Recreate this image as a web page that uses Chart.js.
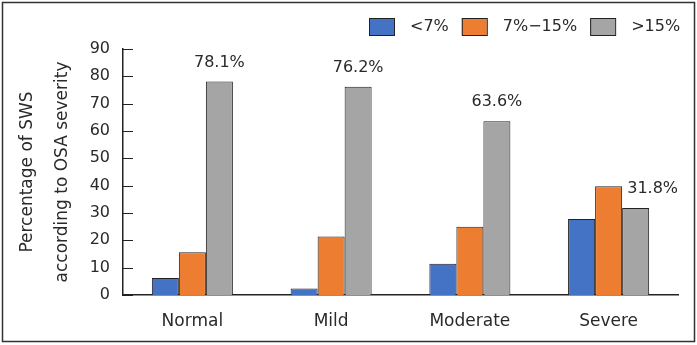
<!DOCTYPE html>
<html>
<head>
<meta charset="utf-8">
<script src="https://cdn.jsdelivr.net/npm/chart.js@4/dist/chart.umd.min.js"></script>
<style>
    html, body { margin: 0; padding: 0; background: #fff; }
    #wrap { width: 697px; height: 345px; position: relative; }
</style>
</head>
<body>
<div id="wrap"><canvas id="swsChart" width="697" height="345"></canvas></div>
<script>
const severityLabels = ['Normal', 'Mild', 'Moderate', 'Severe'];
const seriesNames = ['<7%', '7%\u221215%', '>15%'];
const lowValues = [6.2, 2.4, 11.4, 27.8];
const midValues = [15.6, 21.4, 25.0, 39.8];
const highValues = [78.1, 76.2, 63.6, 31.8];
const yTicks = [0, 10, 20, 30, 40, 50, 60, 70, 80, 90];

const FONT = 'DejaVu Sans';
const TEXT_COLOR = '#2a2a2a';
const barColors = ['#4472C4', '#ED7D31', '#A5A5A5'];

// Labels over the >15% bars; the last one is nudged right so it clears the orange bar
const valueLabelPlugin = {
    id: 'valueLabels',
    afterDatasetsDraw(chart) {
        const ctx = chart.ctx;
        const meta = chart.getDatasetMeta(2);
        const shiftX = [0, 0, 0, 17];
        ctx.save();
        ctx.font = `16px "${FONT}"`;
        ctx.fillStyle = TEXT_COLOR;
        ctx.textAlign = 'center';
        ctx.textBaseline = 'middle';
        meta.data.forEach((bar, i) => {
            ctx.fillText(highValues[i].toFixed(1) + '%', bar.x + shiftX[i], bar.y - 19);
        });
        ctx.restore();
    }
};

// Inward tick marks on the y axis, the legend row and the outer frame
const decorPlugin = {
    id: 'decor',
    afterDraw(chart) {
        const ctx = chart.ctx;
        const yScale = chart.scales.y;
        ctx.save();
        ctx.strokeStyle = '#222';
        ctx.lineWidth = 1;
        yScale.ticks.forEach(t => {
            const py = Math.round(yScale.getPixelForValue(t.value)) + 0.5;
            ctx.beginPath();
            ctx.moveTo(yScale.right, py);
            ctx.lineTo(yScale.right + 10, py);
            ctx.stroke();
        });

        // legend
        ctx.font = `16px "${FONT}"`;
        ctx.textBaseline = 'middle';
        ctx.textAlign = 'left';
        let x = 369;
        const top = 18;
        chart.data.datasets.forEach(ds => {
            ctx.fillStyle = ds.backgroundColor;
            ctx.fillRect(x, top, 25, 17);
            ctx.strokeStyle = '#222';
            ctx.strokeRect(x + 0.5, top + 0.5, 25, 17);
            x += 25 + 16;
            ctx.fillStyle = TEXT_COLOR;
            ctx.fillText(ds.label, x, top + 9);
            x += ctx.measureText(ds.label).width + 13;
        });

        // frame
        ctx.strokeStyle = '#333';
        ctx.lineWidth = 1.5;
        ctx.strokeRect(2.5, 2.5, 692, 339);
        ctx.restore();
    }
};

const chartData = {
    labels: severityLabels,
    datasets: [lowValues, midValues, highValues].map((vals, i) => ({
        label: seriesNames[i],
        data: vals,
        backgroundColor: barColors[i],
        borderColor: '#222',
        borderWidth: 1,
        categoryPercentage: 0.584,
        barPercentage: 1
    }))
};

new Chart(document.getElementById('swsChart'), {
    type: 'bar',
    data: chartData,
    options: {
        responsive: false,
        animation: false,
        layout: { padding: { top: 49, right: 19, left: 0, bottom: 0 } },
        plugins: {
            legend: { display: false },
            tooltip: { enabled: false }
        },
        scales: {
            x: {
                grid: { display: false },
                border: { display: true, color: '#222', width: 1.5 },
                ticks: { color: TEXT_COLOR, font: { family: FONT, size: 17 }, padding: 8 },
                afterFit: scale => { scale.height = 50; }
            },
            y: {
                min: 0,
                max: 90,
                afterBuildTicks: scale => { scale.ticks = yTicks.map(v => ({ value: v })); },
                grid: { display: false, drawTicks: false },
                border: { display: true, color: '#222', width: 1.5 },
                ticks: { color: TEXT_COLOR, font: { family: FONT, size: 16 }, padding: 13 },
                title: {
                    display: true,
                    text: ['Percentage of SWS', 'according to OSA severity'],
                    color: TEXT_COLOR,
                    font: { family: FONT, size: 17, lineHeight: 2.05 },
                    padding: { top: 10, bottom: 0 }
                },
                afterFit: scale => { scale.width = 123; }
            }
        }
    },
    plugins: [valueLabelPlugin, decorPlugin]
});
</script>
</body>
</html>
